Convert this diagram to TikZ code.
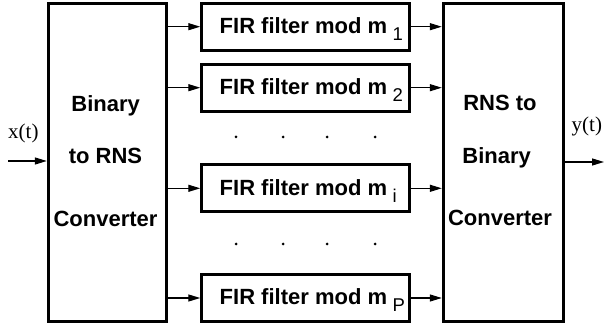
\documentclass[tikz,border=0pt]{standalone}
\usepackage{fontspec}
\setmainfont{Liberation Serif}
\setsansfont{Liberation Sans}
\usetikzlibrary{arrows.meta}
\newcommand{\fsub}[1]{\hspace{5.5pt}\raisebox{-7pt}{\mdseries\fontsize{18.5}{18.5}\selectfont #1}}
\begin{document}
\begin{tikzpicture}[x=1pt,y=-1pt,
  blk/.style={draw, line width=3pt, inner sep=0pt, rectangle},
  conv/.style={blk, minimum height=318.4pt},
  filt/.style={blk, minimum width=207.3pt, minimum height=46.7pt},
  flabel/.style={anchor=base west, inner sep=0pt, font=\sffamily\bfseries\fontsize{22}{22}\selectfont},
  clabel/.style={anchor=base, inner sep=0pt, font=\sffamily\bfseries\fontsize{22}{22}\selectfont},
  slabel/.style={anchor=base west, inner sep=0pt, font=\rmfamily\fontsize{21}{21}\selectfont},
  sig/.style={line width=1.3pt, -{Triangle[length=12pt,width=7pt]}},
  dot/.style={fill, circle, inner sep=0pt, minimum size=3pt}]
\useasboundingbox (0,0) rectangle (605,328);
% converters
\node[conv, minimum width=118.4pt] (lconv) at (107.5,162.5) {};
\node[conv, minimum width=120pt] (rconv) at (503.3,162.5) {};
\node[clabel] (l1) at (105.7,111.7) {Binary};
\node[clabel] (l2) at (105.5,163.3) {to RNS};
\node[clabel] (l3) at (105.5,226.7) {Converter};
\node[clabel] (r1) at (500,110.5) {RNS to};
\node[clabel] (r2) at (496.7,163.3) {Binary};
\node[clabel] (r3) at (500,225.5) {Converter};
% filters
\node[filt] (f1) at (305.4,26.7) {};
\node[filt] (f2) at (305.4,87.7) {};
\node[filt] (fi) at (305.4,188.3) {};
\node[filt] (fp) at (305.4,298) {};
\node[flabel] (t1) at (219.5,33.7) {FIR filter mod m\fsub{1}};
\node[flabel] (t2) at (219.5,94.7) {FIR filter mod m\fsub{2}};
\node[flabel] (ti) at (219.5,195.3) {FIR filter mod m\fsub{i}};
\node[flabel] (tp) at (219.5,305) {FIR filter mod m\fsub{P}};
% dots
\foreach \y in {137,244}{
  \foreach \x in {236,283,327,375}{
    \node[dot] at (\x,\y) {};
  }
}
% connectors
\foreach \f in {f1,f2,fi,fp}{
  \draw[sig] (\f.west -| lconv.east) -- (\f.west);
  \draw[sig] (\f.east) -- (\f.east -| rconv.west);
}
\coordinate (xin) at (8,161);
\coordinate (yout) at (604,162);
\draw[sig] (xin) -- (xin -| lconv.west);
\draw[sig] (yout -| rconv.east) -- (yout);
\node[slabel] (xl) at (8,138.5) {x(t)};
\node[slabel] (yl) at (571.5,131.5) {y(t)};
\end{tikzpicture}
\end{document}
